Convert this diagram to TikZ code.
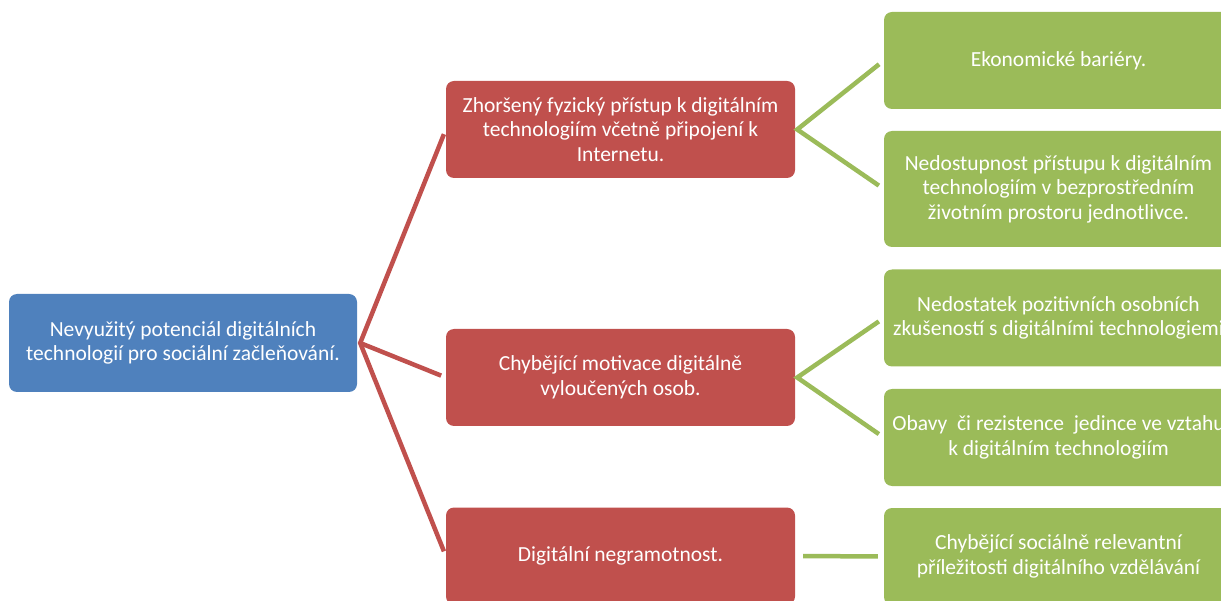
\documentclass[tikz,border=0pt]{standalone}
\usepackage{fontspec}
\setmainfont{Carlito}
\usetikzlibrary{calc}
\definecolor{rootblue}{HTML}{4F81BD}
\definecolor{causered}{HTML}{C0504D}
\definecolor{leafgreen}{HTML}{9BBB59}
\tikzset{
  box/.style={rounded corners=8pt,text=white,align=center,inner sep=0pt,
    minimum width=349pt,minimum height=97pt,
    font=\fontsize{21.5}{24.5}\selectfont},
  rootbox/.style={box,fill=rootblue,minimum width=348pt,minimum height=98pt},
  causebox/.style={box,fill=causered},
  leafbox/.style={box,fill=leafgreen},
  redlink/.style={draw=causered,line width=4.5pt},
  greenlink/.style={draw=leafgreen,line width=4.5pt,shorten <=6pt,shorten >=6pt}
}
\begin{document}
\begin{tikzpicture}[x=1pt,y=-1pt]
    \useasboundingbox (0,0) rectangle (1221,601);
      \node[rootbox] (root) at (183,343)
        {Nevyužitý potenciál digitálních\\technologií pro sociální začleňování.};
      \node[causebox] (phys) at (620.5,129.5)
        {Zhoršený fyzický přístup k digitálním\\technologiím včetně připojení k\\Internetu.};
      \node[causebox] (motiv) at (620.5,377.5)
        {Chybějící motivace digitálně\\vyloučených osob.};
      \node[causebox] (gram) at (620.5,556)
        {Digitální negramotnost.};
      \node[leafbox] (econ) at (1058.5,60.5)
        {Ekonomické bariéry.};
      \node[leafbox,minimum height=116pt] (access) at (1058.5,189)
        {Nedostupnost přístupu k digitálním\\technologiím v bezprostředním\\životním prostoru jednotlivce.};
      \node[leafbox] (exper) at (1058.5,318)
        {Nedostatek pozitivních osobních\\zkušeností s digitálními technologiemi};
      \node[leafbox] (fear) at (1058.5,437.5)
        {Obavy\ \ či rezistence\ \ jedince ve vztahu\\k digitálním technologiím};
      \node[leafbox] (learn) at (1058.5,556.5)
        {Chybějící sociálně relevantní\\příležitosti digitálního vzdělávání};
      \coordinate (rootfork) at ($(root.east)+(3,0)$);
      \draw[redlink,shorten <=5pt,shorten >=5pt] (phys.west) -- (rootfork) -- (gram.west);
      \draw[redlink,shorten >=5pt] (rootfork) -- (motiv.west);
      \foreach \cause/\leafA/\leafB in {phys/econ/access,motiv/exper/fear}{%
        \draw[greenlink] (\leafA.west) -- ($(\cause.east)+(2,0)$) -- (\leafB.west);
      }
      \draw[greenlink] ($(gram.east)+(2,0)$) -- (learn.west);
\end{tikzpicture}
\end{document}
